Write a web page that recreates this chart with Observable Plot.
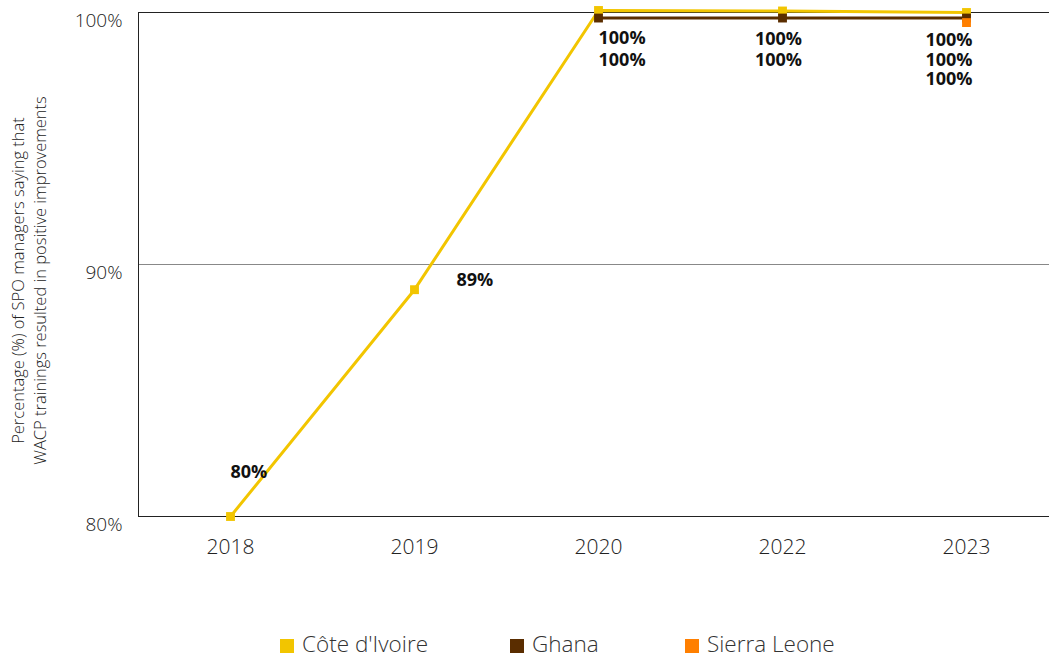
<!DOCTYPE html>
<html>
<head>
<meta charset="utf-8">
<script src="https://cdn.jsdelivr.net/npm/d3@7"></script>
<script src="https://cdn.jsdelivr.net/npm/@observablehq/plot@0.6"></script>
<style>
  html, body { margin: 0; padding: 0; background: #fff; overflow: hidden; }
  body { width: 1049px; height: 657px; font-family: "Open Sans", sans-serif; }
  #legend { position: relative; height: 30px; margin-top: 28px; }
  .item { position: absolute; top: 0; display: flex; align-items: center; font-size: 22.5px; font-weight: 300; color: #333; white-space: nowrap; }
  .sw { width: 14px; height: 14px; margin-right: 8px; margin-top: 4px; }
</style>
</head>
<body>
<div id="chart"></div>
<div id="legend"></div>
<script>
const years = ["2018", "2019", "2020", "2022", "2023"];
const seriesNames = ["Côte d'Ivoire", "Ghana", "Sierra Leone"];
const seriesColors = ["#F2C500", "#5A2D00", "#FF7F00"];
const civYears = ["2018", "2019", "2020", "2022", "2023"];
const civValues = [80, 89, 100.08, 100.06, 100.0];
const ghanaYears = ["2020", "2022", "2023"];
const ghanaValues = [99.78, 99.78, 99.78];
const sleoneYears = ["2023"];
const sleoneValues = [99.6];
const yTicks = [80, 90, 100];
const yTitle = "Percentage (%) of SPO managers saying that\nWACP trainings resulted in positive improvements";

const rows = [];
civYears.forEach((y, i) => rows.push({series: seriesNames[0], year: y, value: civValues[i]}));
ghanaYears.forEach((y, i) => rows.push({series: seriesNames[1], year: y, value: ghanaValues[i]}));
sleoneYears.forEach((y, i) => rows.push({series: seriesNames[2], year: y, value: sleoneValues[i]}));

const fmt = d => Math.round(d.value) + "%";
const labelStyle = {x: "year", y: "value", text: fmt, fontWeight: "bold", fontSize: 18, fill: "#111"};
const rank = {[seriesNames[0]]: 0, [seriesNames[1]]: 1, [seriesNames[2]]: 2};
const topRows = rows.filter(d => d.value > 95);
// stacked labels below the 100% points; anchoring per year
const stackedLabels = (year, anchor, dx) => [0, 1, 2].map(r =>
  Plot.text(topRows.filter(d => d.year === year && rank[d.series] === r),
    {...labelStyle, textAnchor: anchor, dx, dy: [28, 42, 57][r]}));

const chart = Plot.plot({
  width: 1058,
  height: 600,
  marginLeft: 138,
  marginRight: 0,
  marginTop: 12,
  marginBottom: 84,
  style: {fontFamily: "Open Sans, sans-serif", maxWidth: "none", overflow: "visible", background: "#fff"},
  x: {type: "point", domain: years, padding: 0.5, label: null},
  y: {domain: [80, 100], label: null},
  color: {domain: seriesNames, range: seriesColors},
  marks: [
    Plot.ruleY([90], {stroke: "#888", strokeWidth: 1}),
    Plot.ruleY([80, 100], {stroke: "#222", strokeWidth: 1}),
    Plot.frame({anchor: "left", stroke: "#222"}),
    Plot.axisY({ticks: yTicks, tickFormat: d => d + "%", tickSize: 0, tickPadding: 16, dy: 8, fontSize: 19, fontWeight: 300, fill: "#222", label: null}),
    Plot.axisX({tickSize: 0, tickPadding: 23, fontSize: 21, fontWeight: 300, fill: "#222", label: null}),
    Plot.text([yTitle], {frameAnchor: "left", dx: -111, dy: 16, rotate: -90, textAnchor: "middle", fontSize: 16.5, fontWeight: 300, lineHeight: 1.35, fill: "#222"}),
    Plot.line(rows, {x: "year", y: "value", z: "series", stroke: "series", strokeWidth: 3}),
    Plot.dot(rows, {x: "year", y: "value", fill: "series", symbol: "square", r: 5}),
    Plot.text(rows.filter(d => d.year === "2018"), {...labelStyle, textAnchor: "start", dy: -44}),
    Plot.text(rows.filter(d => d.year === "2019"), {...labelStyle, textAnchor: "start", dx: 42, dy: -9}),
    ...stackedLabels("2020", "start", 0),
    ...stackedLabels("2022", "middle", -4),
    ...stackedLabels("2023", "end", 6)
  ]
});
document.getElementById("chart").appendChild(chart);

const legendLeft = [280, 510, 685];
const legend = document.getElementById("legend");
seriesNames.forEach((name, i) => {
  const item = document.createElement("div");
  item.className = "item";
  item.style.left = legendLeft[i] + "px";
  const sw = document.createElement("span");
  sw.className = "sw";
  sw.style.background = seriesColors[i];
  const t = document.createElement("span");
  t.textContent = name;
  item.appendChild(sw);
  item.appendChild(t);
  legend.appendChild(item);
});
</script>
</body>
</html>
